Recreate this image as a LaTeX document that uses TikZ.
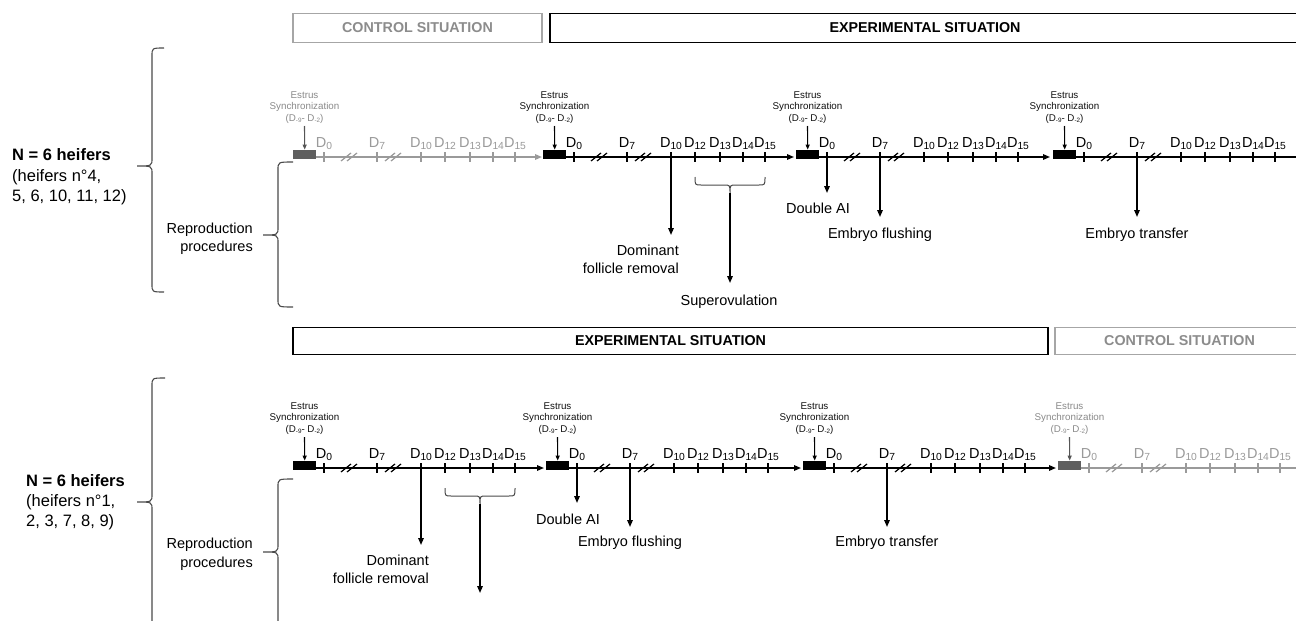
\documentclass[tikz,border=0pt]{standalone}
\usepackage{fontspec}
\setmainfont{Liberation Sans}
\usetikzlibrary{arrows.meta,calc}
\definecolor{blkline}{HTML}{000000}
\definecolor{blkrect}{HTML}{000000}
\definecolor{blklab}{HTML}{000000}
\definecolor{blkest}{HTML}{111111}
\definecolor{blkearr}{HTML}{000000}
\definecolor{grayline}{HTML}{9A9A9A}
\definecolor{grayrect}{HTML}{5F5F5F}
\definecolor{graylab}{HTML}{9A9A9A}
\definecolor{grayest}{HTML}{8A8A8A}
\definecolor{grayearr}{HTML}{555555}
\definecolor{ctrlline}{HTML}{A6A6A6}
\definecolor{ctrltext}{HTML}{8C8C8C}
\definecolor{brcol}{HTML}{4A4A4A}

\newcommand\Dlab[1]{D\raisebox{-2.7pt}{\fontsize{10.3}{11}\selectfont #1}}
\newcommand\Esub[1]{\raisebox{-1.5pt}{\fontsize{6.3}{7}\selectfont #1}}

\tikzset{
  tl/.style={line width=1.5pt},
  tlarr/.style={-{Triangle[length=7pt,width=5.5pt]}},
  tlnone/.style={},
  evt/.style={line width=1.5pt,-{Triangle[length=7pt,width=5.5pt]}},
  lbl/.style={inner sep=0pt,font=\fontsize{14.5}{17}\selectfont},
  dlab/.style={inner sep=0pt,font=\fontsize{14.5}{16}\selectfont,anchor=base},
  estr/.style={inner sep=0pt,font=\fontsize{9.8}{11}\selectfont,anchor=base},
  brc/.style={line width=1.1pt,draw=brcol},
  ctrlbox/.style={draw=ctrlline,line width=1.3pt,text=ctrltext,font=\fontsize{14.3}{16}\selectfont\bfseries,inner sep=0pt},
  expbox/.style={draw=black,line width=1.6pt,text=black,font=\fontsize{14.3}{16}\selectfont\bfseries,inner sep=0pt},
  big/.style={inner sep=0pt,font=\fontsize{16.5}{20}\selectfont,anchor=base west},
  bigb/.style={big,font=\fontsize{16.5}{20}\selectfont\bfseries},
  rep/.style={lbl,anchor=base east},
}

% #1 name, #2 left of bar, #3 line y, #4 colour prefix, #5 end x, #6 end style
\newcommand\timeline[6]{%
  \node[fill=#4rect,minimum width=23pt,minimum height=9pt,inner sep=0pt,anchor=south west] (#1-rect) at (#2,#3+2) {};
  \coordinate (#1-start) at (#2+23,#3);
  \coordinate (#1-end) at (#5,#3);
  \draw[tl,draw=#4line,fill=#4line,#6] (#1-start) -- (#1-end);
  \foreach \n/\o/\s in {d0/31/0,d7/84/7,d10/128/10,d12/152/12,d13/177/13,d14/200/14,d15/222/15}{%
    \coordinate (#1-\n) at (#2+\o,#3);
    \draw[line width=1.3pt,draw=#4line] (#1-\n) ++(0,-5) -- ++(0,10);
    \node[dlab,text=#4lab] (#1-l\n) at (#2+\o,#3-10) {\Dlab{\s}};
  }
  \foreach \b/\o in {b1/56,b2/100}{%
    \coordinate (#1-\b) at (#2+\o,#3);
    \draw[line width=1.2pt,draw=#4line] (#1-\b) ++(-8,4) -- ++(10,-8) ++(-4,8) -- ++(10,-8);
  }
  \coordinate (#1-es) at (#2+11.5,#3-31);
  \draw[line width=1.1pt,draw=#4earr,fill=#4earr,-{Triangle[length=5pt,width=4pt]}] (#1-es) -- (#1-rect.north);
  \node[estr,text=#4est] (#1-e1) at (#2+11.5,#3-59) {Estrus};
  \node[estr,text=#4est] (#1-e2) at (#2+11.5,#3-48) {Synchronization};
  \node[estr,text=#4est] (#1-e3) at (#2+11.5,#3-36) {(D\Esub{-9}- D\Esub{-2})};
}

% left curly brace: #1 end x, #2 vertical x, #3 tip x, #4 top y, #5 tip y, #6 bottom y
\newcommand\curlyL[6]{%
  \draw[brc] (#1,#4) .. controls (#2,#4) .. (#2,#4+8) -- (#2,#5-8)
    .. controls (#2,#5) .. (#3,#5) .. controls (#2,#5) .. (#2,#5+8)
    -- (#2,#6-8) .. controls (#2,#6) .. (#1,#6);
}
% downward curly brace: #1 left x, #2 right x, #3 tip x, #4 top y, #5 mid y, #6 tip y
\newcommand\curlyD[6]{%
  \draw[brc,line width=1pt] (#1,#4) .. controls (#1,#5) .. (#1+6,#5) -- (#3-6,#5)
    .. controls (#3,#5) .. (#3,#6) .. controls (#3,#5) .. (#3+6,#5)
    -- (#2-6,#5) .. controls (#2,#5) .. (#2,#4);
}

\begin{document}
\begin{tikzpicture}[x=1pt,y=-1pt]
\useasboundingbox (0,0) rectangle (1296,621);
\fill[white] (0,0) rectangle (1296,621);
\clip (0,0) rectangle (1296,621);

% ---------------- situation boxes ----------------
\node[ctrlbox,minimum width=249pt,minimum height=29pt] (ctrl1) at (417.5,28) {CONTROL SITUATION};
\node[expbox,minimum width=750pt,minimum height=29pt] (exp1) at (925,28) {EXPERIMENTAL SITUATION};
\node[expbox,minimum width=755pt,minimum height=27pt] (exp2) at (670.5,341) {EXPERIMENTAL SITUATION};
\node[ctrlbox,minimum width=249pt,minimum height=27pt] (ctrl2) at (1179.5,341) {CONTROL SITUATION};

% ---------------- top group ----------------
\node[bigb] (n1a) at (12,160) {N = 6 heifers};
\node[big] (n1b) at (12,181) {(heifers n°4,};
\node[big] (n1c) at (12,201.5) {5, 6, 10, 11, 12)};
\curlyL{164}{152}{137}{48}{166}{292}
\node[rep] (r1a) at (253,233) {Reproduction};
\node[rep] (r1b) at (253,251) {procedures};
\curlyL{293}{278}{263}{162}{235}{307}

\timeline{T1}{293}{157}{gray}{542}{tlarr}
\timeline{T2}{543}{157}{blk}{794}{tlarr}
\timeline{T3}{796}{157}{blk}{1050}{tlarr}
\timeline{T4}{1053}{157}{blk}{1300}{tlnone}

% events top
\coordinate (dfr1-end) at (671,235);
\draw[evt] (T2-d10) -- (dfr1-end);
\node[rep] (dfr1a) at (679,255) {Dominant};
\node[rep] (dfr1b) at (679,273) {follicle removal};

\curlyD{695}{765}{730}{177}{185}{193}
\coordinate (sov1-top) at (730,193);
\coordinate (sov1-end) at (730,283);
\draw[evt] (sov1-top) -- (sov1-end);
\node[lbl,anchor=base] (sov1) at (729,305) {Superovulation};

\coordinate (dai1-end) at (827,193);
\draw[evt] (T3-d0) -- (dai1-end);
\node[lbl,anchor=base] (dai1) at (818,213) {Double AI};

\coordinate (efl1-end) at (880,217);
\draw[evt] (T3-d7) -- (efl1-end);
\node[lbl,anchor=base] (efl1) at (880,238) {Embryo flushing};

\coordinate (etr1-end) at (1137,217);
\draw[evt] (T4-d7) -- (etr1-end);
\node[lbl,anchor=base] (etr1) at (1137,238) {Embryo transfer};

% ---------------- bottom group ----------------
\node[bigb] (n2a) at (26,486) {N = 6 heifers};
\node[big] (n2b) at (26,506) {(heifers n°1,};
\node[big] (n2c) at (26,526) {2, 3, 7, 8, 9)};
\curlyL{165}{152}{137}{378}{502}{660}
\node[rep] (r2a) at (253,548) {Reproduction};
\node[rep] (r2b) at (253,567) {procedures};
\curlyL{293}{278}{263}{479}{552}{660}

\timeline{B1}{293}{468}{blk}{544}{tlarr}
\timeline{B2}{546}{468}{blk}{801}{tlarr}
\timeline{B3}{803}{468}{blk}{1056}{tlarr}
\timeline{B4}{1058}{468}{gray}{1300}{tlnone}

% events bottom
\coordinate (dfr2-end) at (421,545);
\draw[evt] (B1-d10) -- (dfr2-end);
\node[rep] (dfr2a) at (429,565) {Dominant};
\node[rep] (dfr2b) at (429,583) {follicle removal};

\curlyD{445}{515}{480}{488}{496}{504}
\coordinate (sov2-top) at (480,504);
\coordinate (sov2-end) at (480,593);
\draw[evt] (sov2-top) -- (sov2-end);

\coordinate (dai2-end) at (577,503);
\draw[evt] (B2-d0) -- (dai2-end);
\node[lbl,anchor=base] (dai2) at (568,524) {Double AI};

\coordinate (efl2-end) at (630,527);
\draw[evt] (B2-d7) -- (efl2-end);
\node[lbl,anchor=base] (efl2) at (630,546) {Embryo flushing};

\coordinate (etr2-end) at (887,527);
\draw[evt] (B3-d7) -- (etr2-end);
\node[lbl,anchor=base] (etr2) at (887,546) {Embryo transfer};
\end{tikzpicture}
\end{document}
